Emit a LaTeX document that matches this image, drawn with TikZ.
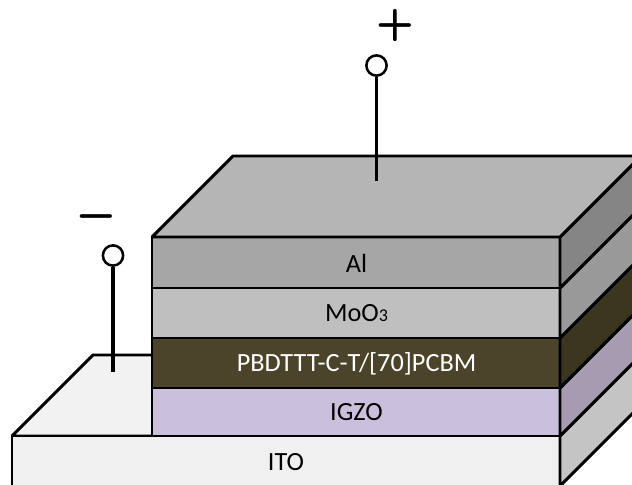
\documentclass[tikz,border=0pt]{standalone}
\usepackage{fontspec}
\setmainfont{Carlito}
\definecolor{igzofront}{RGB}{203,192,220}
\definecolor{igzoside}{RGB}{166,155,176}
\definecolor{polyfront}{RGB}{75,68,42}
\definecolor{polyside}{RGB}{60,54,33}
\tikzset{
  layer/.style={draw=black,line width=2.2pt,line join=bevel},
  lbl/.style={inner sep=0pt,font=\fontsize{19.7pt}{22pt}\selectfont},
  sign/.style={inner sep=0pt,font=\sffamily\bfseries\fontsize{33pt}{33pt}\selectfont},
  terminal/.style={circle,draw=black,fill=white,line width=1.9pt,minimum size=15.2pt,inner sep=0pt},
  wire/.style={line width=2.4pt}
}
\begin{document}
\begin{tikzpicture}[x=0.75pt,y=-0.75pt]
  \useasboundingbox (0,0) rectangle (632,485);
  \clip (0,0) rectangle (632,485);
  % ITO
  \draw[layer,fill=black!5] (12,436) -- (93,355) -- (233,355) -- (233,436) -- cycle;
  \draw[layer,fill=black!6] (12,436) rectangle (560,486);
  \draw[layer,fill=black!23] (560,436) -- (641,355) -- (641,405) -- (560,486) -- cycle;
  % IGZO
  \draw[layer,fill=igzofront] (152,388) rectangle (560,436);
  \draw[layer,fill=igzoside] (560,388) -- (641,307) -- (641,355) -- (560,436) -- cycle;
  % polymer
  \draw[layer,fill=polyfront] (152,338) rectangle (560,388);
  \draw[layer,fill=polyside] (560,338) -- (641,257) -- (641,307) -- (560,388) -- cycle;
  % MoO3
  \draw[layer,fill=black!25] (152,288) rectangle (560,338);
  \draw[layer,fill=black!40] (560,288) -- (641,207) -- (641,257) -- (560,338) -- cycle;
  % Al
  \draw[layer,fill=black!35] (152,237) rectangle (560,288);
  \draw[layer,fill=black!48] (560,237) -- (641,156) -- (641,207) -- (560,288) -- cycle;
  \draw[layer,fill=black!29] (152,237) -- (233,156) -- (641,156) -- (560,237) -- cycle;
  % labels
  \node[lbl] (al) at (356.5,263.5) {Al};
  \node[lbl] (moo) at (356.5,313.5) {MoO{\fontsize{13.5pt}{14pt}\selectfont 3}};
  \node[lbl,text=white] (pcbm) at (356.5,363.5) {PBDTTT-C-T/[70]PCBM};
  \node[lbl] (igzo) at (356.5,412.5) {IGZO};
  \node[lbl] (ito) at (286,462.5) {ITO};
  % terminals
  \node[terminal] (anode) at (376.5,65.5) {};
  \node[terminal] (cathode) at (113,255.5) {};
  \coordinate (anodeend) at (376.5,181);
  \coordinate (cathodeend) at (113,372);
  \draw[wire] (anode) -- (anodeend);
  \draw[wire] (cathode) -- (cathodeend);
  \node[sign] (plus) at (395.5,26) {+};
  \node[sign] (minus) at (96.5,221) {−};
\end{tikzpicture}
\end{document}
